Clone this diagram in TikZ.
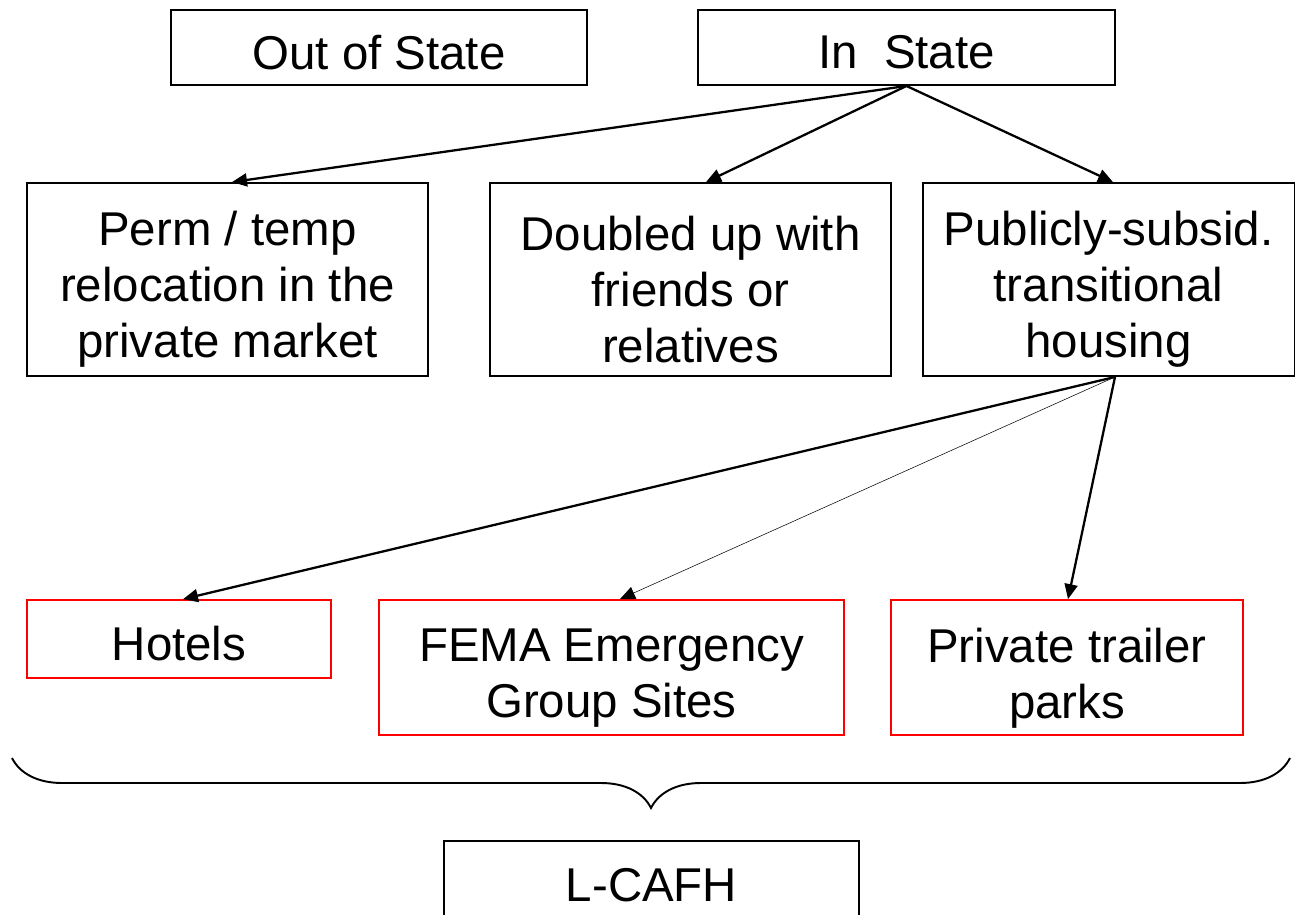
\documentclass[tikz,border=0pt]{standalone}
\usepackage{fontspec}
\setmainfont{Liberation Sans}
\usetikzlibrary{arrows.meta}
\usetikzlibrary{decorations.pathreplacing}

\begin{document}
\begin{tikzpicture}[x=0.02cm, y=-0.02cm,
    every node/.style={font=\fontsize{27}{31.8}\selectfont, align=center, inner sep=0pt},
    blackbox/.style={draw, line width=1.1pt, minimum height=1.5cm},
    redbox/.style={draw=red, line width=1pt},
    link/.style={line width=1.3pt, -{Triangle[length=0.3cm, width=0.26cm]}}]
\useasboundingbox (0,0) rectangle (1296,914);
\clip (0,0) rectangle (1296,914);

\node[blackbox, minimum width=8.32cm, label={[yshift=-0.1cm]center:Out of State}] (out-state) at (379,47.5) {};
\node[blackbox, minimum width=8.34cm, label={[yshift=-0.1cm]center:In\ \ State}] (in-state) at (906.5,47.5) {};

\node[blackbox, minimum width=8.02cm, minimum height=3.86cm,
  label={[yshift=-0.2cm]center:Perm / temp\\relocation in the\\private market}] (perm) at (227.5,279.5) {};
\node[blackbox, minimum width=8.02cm, minimum height=3.86cm,
  label={[yshift=-0.2cm]center:Doubled up with\\friends or\\relatives}] (doubled) at (690.5,279.5) {};
\node[blackbox, minimum width=7.44cm, minimum height=3.86cm,
  label={[yshift=-0.2cm]center:Publicly-subsid.\\transitional\\housing}] (public) at (1108.5,279.5) {};

\node[redbox, minimum width=6.08cm, minimum height=1.56cm,
  label={[yshift=-0.1cm]center:Hotels}] (hotels) at (179,639) {};
\node[redbox, minimum width=9.3cm, minimum height=2.7cm,
  label={[yshift=-0.22cm]center:FEMA Emergency\\Group Sites}] (fema) at (611.5,667.5) {};
\node[redbox, minimum width=7.04cm, minimum height=2.7cm,
  label={[yshift=-0.22cm]center:Private trailer\\parks}] (trailer) at (1067,667.5) {};

\node[blackbox, minimum width=8.3cm, minimum height=2.3cm, anchor=north] (lcafh) at (651.5,840) {};
\node (lcafh-text) at (651.5,885) {L-CAFH};

% arrows from In State
\draw[link] (in-state.south) -- ([xshift=0.09cm]perm.north);
\draw[link] (in-state.south) -- ([xshift=0.31cm]doubled.north);
\draw[link] (in-state.south) -- ([xshift=0.09cm]public.north);

% arrows from transitional housing
\draw[link] ([xshift=0.13cm]public.south) -- ([xshift=0.08cm]hotels.north);
\draw[link, line width=0.3pt] ([xshift=0.13cm]public.south) -- ([xshift=0.17cm]fema.north);
\draw[link] ([xshift=0.13cm]public.south) -- ([xshift=0.02cm]trailer.north);

% brace
\draw[line width=1.1pt, decorate, decoration={brace, amplitude=1cm}]
  (1290,758) -- (12,758);
\end{tikzpicture}
\end{document}
